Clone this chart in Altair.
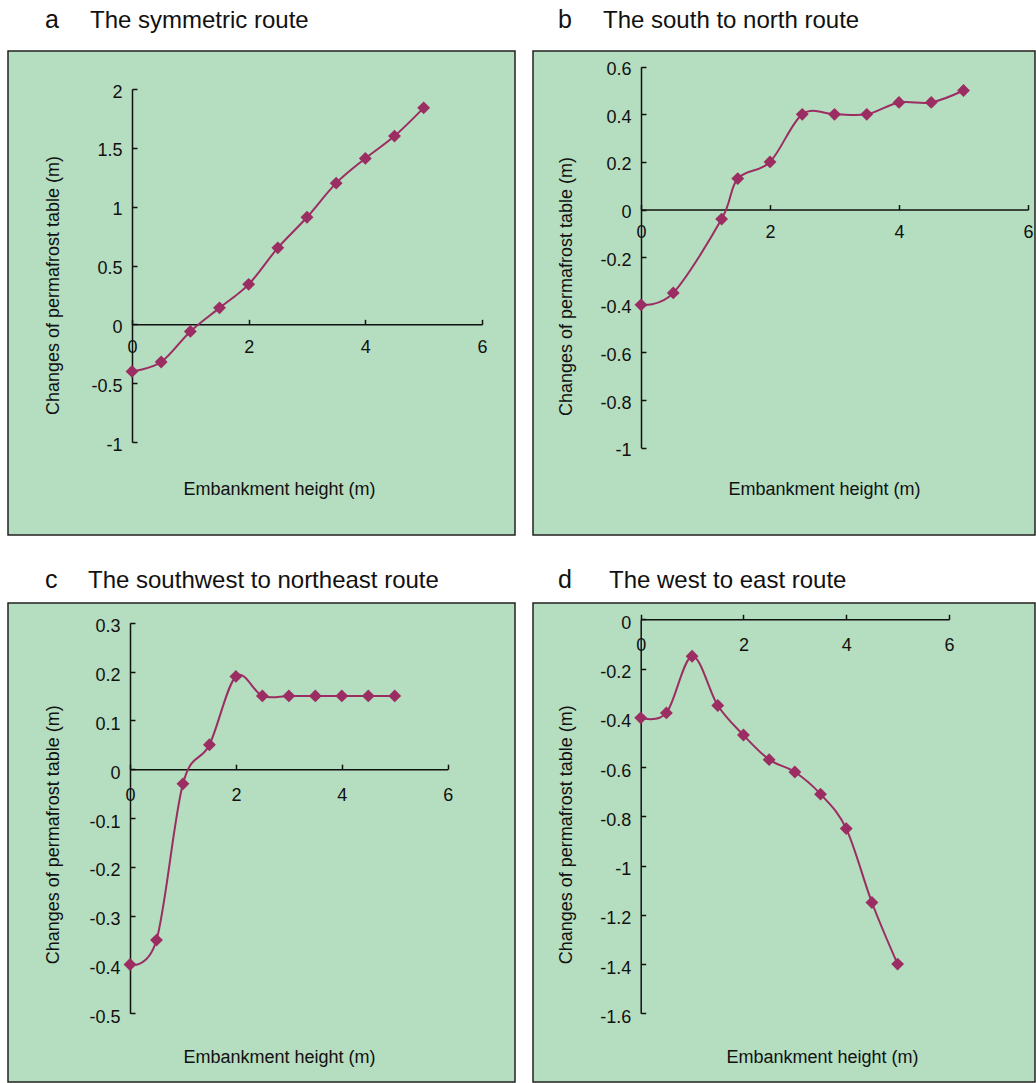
import altair as alt
import pandas as pd

# ---------------- data ----------------
heights = [0, 0.5, 1, 1.5, 2, 2.5, 3, 3.5, 4, 4.5, 5]
heights_b = [0, 0.5, 1.25, 1.5, 2, 2.5, 3, 3.5, 4, 4.5, 5]

change_a = [-0.40, -0.32, -0.06, 0.14, 0.34, 0.65, 0.91, 1.20, 1.41, 1.60, 1.84]
change_b = [-0.40, -0.35, -0.04, 0.13, 0.20, 0.40, 0.40, 0.40, 0.45, 0.45, 0.50]
change_c = [-0.40, -0.35, -0.03, 0.05, 0.19, 0.15, 0.15, 0.15, 0.15, 0.15, 0.15]
change_d = [-0.40, -0.38, -0.15, -0.35, -0.47, -0.57, -0.62, -0.71, -0.85, -1.15, -1.40]

x_ticks = [0, 2, 4, 6]
y_ticks_a = [-1, -0.5, 0, 0.5, 1, 1.5, 2]
y_ticks_b = [-1, -0.8, -0.6, -0.4, -0.2, 0, 0.2, 0.4, 0.6]
y_ticks_c = [-0.5, -0.4, -0.3, -0.2, -0.1, 0, 0.1, 0.2, 0.3]
y_ticks_d = [-1.6, -1.4, -1.2, -1.0, -0.8, -0.6, -0.4, -0.2, 0]

panel_letters = ["a", "b", "c", "d"]
panel_titles = [
    "The symmetric route",
    "The south to north route",
    "The southwest to northeast route",
    "The west to east route",
]
x_title = "Embankment height (m)"
y_title = "Changes of permafrost table (m)"

COLOR = "#9B2D62"
INK = "#111111"
FONT = "Liberation Sans"
LABEL_EXPR = "replace(format(datum.value, '~g'), '\u2212', '-')"


def panel(xs, ys, yticks, letter, title, W, H, xr, yr, head_y, letter_x, title_x,
          xt, yt, xpad, yoff):
    df = pd.DataFrame({"h": xs, "c": ys})
    ydom = [yticks[0], yticks[-1]]
    y0 = yr[0] + (0 - ydom[0]) / (ydom[1] - ydom[0]) * (yr[1] - yr[0])
    xscale = alt.Scale(domain=[0, 6], range=xr, nice=False, zero=False)
    yscale = alt.Scale(domain=ydom, range=yr, nice=False, zero=False)

    line = alt.Chart(df).mark_line(
        interpolate="cardinal", color=COLOR, strokeWidth=2
    ).encode(
        x=alt.X("h:Q", scale=xscale, axis=alt.Axis(
            orient="bottom", offset=y0 - H, values=x_ticks, ticks=False, tickSize=0,
            domain=True, domainColor=INK, domainWidth=1.5, labelPadding=xpad,
            labelExpr=LABEL_EXPR, labelFlush=False, labelOverlap=False, grid=False,
            title=x_title, titleX=xt[0], titleY=xt[1] - y0, titleAlign="center",
            titleBaseline="alphabetic")),
        y=alt.Y("c:Q", scale=yscale, axis=alt.Axis(
            orient="left", offset=-xr[0], values=yticks, ticks=False, tickSize=0,
            domain=True, domainColor=INK, domainWidth=1.5, labelPadding=10,
            labelOffset=yoff,
            labelExpr=LABEL_EXPR, labelFlush=False, labelOverlap=False, grid=False,
            title=y_title, titleX=yt[0] - xr[0], titleY=yt[1], titleAlign="center",
            titleBaseline="middle")),
    )

    pts = alt.Chart(df).mark_point(
        shape="diamond", filled=True, size=165, color=COLOR, opacity=1
    ).encode(
        x=alt.X("h:Q", scale=xscale, axis=alt.Axis(
            orient="top", offset=-y0, values=x_ticks, labels=False, domain=False,
            ticks=True, tickSize=5, tickColor=INK, tickWidth=1.5, grid=False, title=None)),
        y=alt.Y("c:Q", scale=yscale, axis=alt.Axis(
            orient="right", offset=xr[0] - W, values=yticks, labels=False, domain=False,
            ticks=True, tickSize=5, tickColor=INK, tickWidth=1.5, grid=False, title=None)),
    )

    head_df = pd.DataFrame({"k": [letter], "t": [title]})
    letter_mark = alt.Chart(head_df).mark_text(
        align="left", baseline="alphabetic", fontSize=25, color=INK
    ).encode(x=alt.value(letter_x), y=alt.value(head_y), text="k:N")
    title_mark = alt.Chart(head_df).mark_text(
        align="left", baseline="alphabetic", fontSize=24, color=INK
    ).encode(x=alt.value(title_x), y=alt.value(head_y), text="t:N")

    return alt.layer(line, pts, letter_mark, title_mark).resolve_axis(
        x="independent", y="independent"
    ).properties(width=W, height=H)


pa = panel(heights, change_a, y_ticks_a, panel_letters[0], panel_titles[0],
           507, 484, [124, 474], [391, 38], -23.3, 37, 82, (271, 443), (45, 234), 14, 3)
pb = panel(heights_b, change_b, y_ticks_b, panel_letters[1], panel_titles[1],
           502, 484, [108, 495], [396.7, 15.7], -23.3, 25, 70, (291, 443), (33.7, 235), 14, 3)
pc = panel(heights, change_c, y_ticks_c, panel_letters[2], panel_titles[2],
           507, 479, [122, 439.7], [410.3, 19.7], -15.3, 37, 80, (271, 459.7), (45, 231.3), 17, 4)
pd_ = panel(heights, change_d, y_ticks_d, panel_letters[3], panel_titles[3],
            502, 479, [107.7, 416], [410.3, 16.3], -15.3, 25, 76, (289, 459.7), (33.7, 231.3), 17, 4)

chart = alt.concat(
    pa, pb, pc, pd_, columns=2, bounds="flush",
    spacing=alt.RowColnumber(row=68, column=18),
).properties(
    padding={"left": 7, "top": 6, "right": 0, "bottom": 0}
).configure_view(
    fill="#B5DDC0", stroke="#222222", strokeWidth=1.5
).configure_axis(
    labelFont=FONT, labelFontSize=18, labelColor=INK,
    titleFont=FONT, titleFontSize=18, titleFontWeight="normal", titleColor=INK,
).configure_text(font=FONT)

chart.save("out.html", embed_options={"renderer": "svg", "actions": False})
